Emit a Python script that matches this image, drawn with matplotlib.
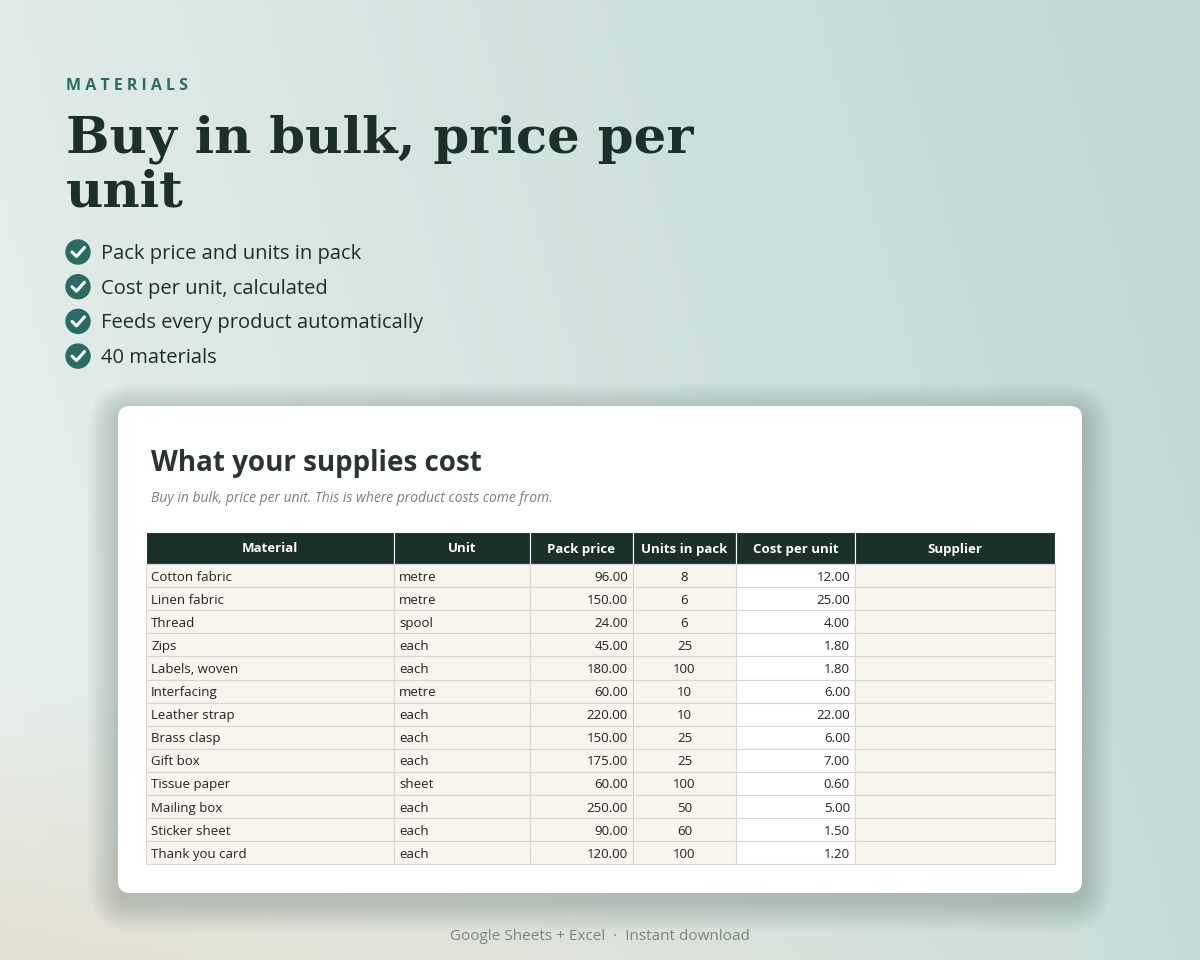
import numpy as np
import matplotlib.pyplot as plt
from matplotlib.patches import FancyBboxPatch, Circle, Rectangle

# ── Data ──────────────────────────────────────────────
columns = ["Material", "Unit", "Pack price", "Units in pack", "Cost per unit", "Supplier"]
materials = ["Cotton fabric", "Linen fabric", "Thread", "Zips", "Labels, woven", "Interfacing",
             "Leather strap", "Brass clasp", "Gift box", "Tissue paper", "Mailing box",
             "Sticker sheet", "Thank you card"]
units = ["metre", "metre", "spool", "each", "each", "metre", "each", "each", "each",
         "sheet", "each", "each", "each"]
pack_price = [96, 150, 24, 45, 180, 60, 220, 150, 175, 60, 250, 90, 120]
units_in_pack = [8, 6, 6, 25, 100, 10, 10, 25, 25, 100, 50, 60, 100]
cost_per_unit = [12.00, 25.00, 4.00, 1.80, 1.80, 6.00, 22.00, 6.00, 7.00, 0.60, 5.00, 1.50, 1.20]
bullets = ["Pack price and units in pack", "Cost per unit, calculated",
           "Feeds every product automatically", "40 materials"]

# ── Style ─────────────────────────────────────────────
DARK = "#1b302b"
TEAL = "#2a6b63"
BEIGE = "#f8f4ee"
GRID = "#d9d6cf"
SANS = ["Open Sans", "DejaVu Sans"]

fig = plt.figure(figsize=(12, 9.6), dpi=100)
ax = fig.add_axes([0, 0, 1, 1])
ax.set_xlim(0, 1200)
ax.set_ylim(960, 0)
ax.axis("off")

# background gradient
gx = np.linspace(0, 1, 240)
gy = np.linspace(0, 1, 192)
X, Y = np.meshgrid(gx, gy)
c0 = np.array([0.91, 0.94, 0.93])
c1 = np.array([0.76, 0.85, 0.84])
c2 = np.array([0.89, 0.88, 0.83])
t = np.clip(X * 0.9 + (1 - Y) * 0.2, 0, 1)[..., None]
img = c0 * (1 - t) + c1 * t
w = np.clip((Y - 0.7) * 2.5 * (1 - X) * 1.5, 0, 1)[..., None]
img = img * (1 - w) + c2 * w
ax.imshow(img, extent=[0, 1200, 960, 0], aspect="auto", zorder=0)

# header text
ax.text(66, 86, "M A T E R I A L S", fontsize=11.5, color=TEAL, family=SANS, weight="bold",
        va="center")
SERIF = ["DejaVu Serif", "Liberation Serif"]
ax.text(66, 139, "Buy in bulk, price per", fontsize=37, weight="bold", color=DARK,
        family=SERIF, va="center")
ax.text(66, 193, "unit", fontsize=37, weight="bold", color=DARK, family=SERIF, va="center")
for i, b in enumerate(bullets):
    yy = 252 + i * 34.7
    ax.add_patch(Circle((78, yy), 12, color=TEAL, zorder=3))
    ax.plot([72, 76.5, 84.5], [yy, yy + 4.5, yy - 4.5], color="white", lw=2.2,
            solid_capstyle="round", zorder=4)
    ax.text(101, yy + 2, b, fontsize=14.5, color=DARK, family=SANS, va="center")

# card with soft shadow
for k in range(12):
    pad = 4 + k * 5
    ax.add_patch(FancyBboxPatch((118 - pad / 2, 414 - pad / 2), 964 + pad, 487 + pad,
                                boxstyle="round,pad=0,rounding_size=%d" % (14 + k * 3),
                                fc="#2c403c", ec="none", alpha=0.018, zorder=1))
ax.add_patch(FancyBboxPatch((118, 406), 964, 487, boxstyle="round,pad=0,rounding_size=12",
                            fc="white", ec="none", zorder=2))
ax.text(151, 463, "What your supplies cost", fontsize=20, weight="bold", color="#2a3431",
        family=SANS, va="center", zorder=3)
ax.text(151, 498, "Buy in bulk, price per unit. This is where product costs come from.",
        fontsize=10, style="italic", color="#7a7f7d", family=SANS, va="center", zorder=3)

# table
xs = [146, 394, 530, 633, 736, 855, 1055]
top, hh, rh = 532, 32, 23.1
for j, name in enumerate(columns):
    ax.add_patch(Rectangle((xs[j], top), xs[j + 1] - xs[j], hh, fc=DARK, ec="white",
                           lw=0.8, zorder=3))
    ax.text((xs[j] + xs[j + 1]) / 2, top + hh / 2 + 1, name, color="white", fontsize=9.5,
            weight="bold", family=SANS, ha="center", va="center", zorder=4)
for i in range(len(materials)):
    y0 = top + hh + i * rh
    yc = y0 + rh / 2 + 1.5
    vals = [materials[i], units[i], f"{pack_price[i]:.2f}", str(units_in_pack[i]),
            f"{cost_per_unit[i]:.2f}", ""]
    for j, v in enumerate(vals):
        fc = "white" if j == 4 else BEIGE
        ax.add_patch(Rectangle((xs[j], y0), xs[j + 1] - xs[j], rh, fc=fc, ec=GRID,
                               lw=0.8, zorder=3))
        if j in (2, 4):
            ax.text(xs[j + 1] - 5, yc, v, ha="right", va="center", fontsize=9.5,
                    color="#222", family=SANS, zorder=4)
        elif j == 3:
            ax.text((xs[j] + xs[j + 1]) / 2, yc, v, ha="center", va="center",
                    fontsize=9.5, color="#222", family=SANS, zorder=4)
        else:
            ax.text(xs[j] + 5, yc, v, ha="left", va="center", fontsize=9.5,
                    color="#222", family=SANS, zorder=4)

ax.text(600, 936, "Google Sheets + Excel  ·  Instant download", fontsize=11,
        color="#7d8482", family=SANS, ha="center", va="center")

fig.savefig("out.png", dpi=100)
